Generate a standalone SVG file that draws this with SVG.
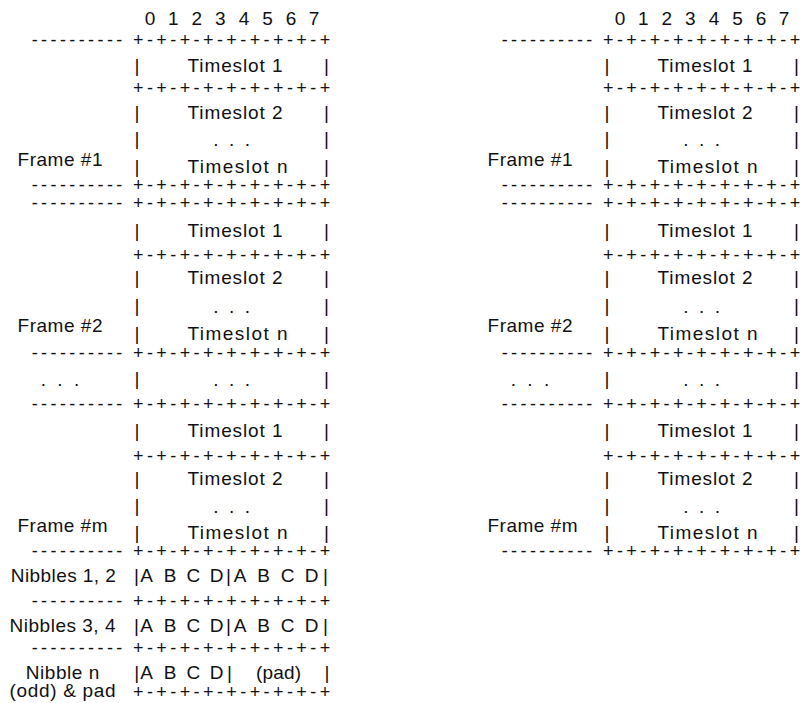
<svg xmlns="http://www.w3.org/2000/svg" width="801" height="703" viewBox="0 0 801 703">
<style>
.t{font-family:"Liberation Sans",Arial,Helvetica,sans-serif;font-size:19px;fill:#111111}
.g{font-size:18px}
.m{text-anchor:middle}
</style>
<rect width="801" height="703" fill="#ffffff"/>
<g id="left-panel">
  <g id="L-header">
    <text class="t m" x="150 161.7 173.3 185 196.7 208.5 220.3 232 244 255.7 267.5 279.3 291 302.5 314" y="25">0 1 2 3 4 5 6 7</text>
    <text class="t g m" x="34.7 44.1 53.5 62.9 72.3 81.7 91.1 100.5 109.9 119.3" y="46">----------</text>
    <text class="t g m" x="138.3 150 161.6 173.3 185 196.6 208.3 220 231.6 243.3 255 266.6 278.3 290 301.6 313.3 325" y="46">+-+-+-+-+-+-+-+-+</text>
  </g>
  <g id="L-frame1">
    <text class="t m" x="137" y="72">|</text><text class="t" x="187.5" y="72" textLength="95" lengthAdjust="spacing">Timeslot 1</text><text class="t m" x="326.5" y="72">|</text>
    <text class="t g m" x="138.3 150 161.6 173.3 185 196.6 208.3 220 231.6 243.3 255 266.6 278.3 290 301.6 313.3 325" y="94">+-+-+-+-+-+-+-+-+</text>
    <text class="t m" x="137" y="119">|</text><text class="t" x="187.5" y="119" textLength="95" lengthAdjust="spacing">Timeslot 2</text><text class="t m" x="326.5" y="119">|</text>
    <text class="t m" x="137" y="145">|</text><text class="t m" x="216 224 231.7 239.5 247.3" y="146">. . .</text><text class="t m" x="326.5" y="145">|</text>
    <text class="t" x="17.5" y="166" textLength="85" lengthAdjust="spacing">Frame #1</text>
    <text class="t m" x="137" y="173">|</text><text class="t" x="187.5" y="173" textLength="100" lengthAdjust="spacing">Timeslot n</text><text class="t m" x="326.5" y="173">|</text>
    <text class="t g m" x="34.7 44.1 53.5 62.9 72.3 81.7 91.1 100.5 109.9 119.3" y="191">----------</text>
    <text class="t g m" x="138.3 150 161.6 173.3 185 196.6 208.3 220 231.6 243.3 255 266.6 278.3 290 301.6 313.3 325" y="191">+-+-+-+-+-+-+-+-+</text>
  </g>
  <g id="L-frame2">
    <text class="t g m" x="34.7 44.1 53.5 62.9 72.3 81.7 91.1 100.5 109.9 119.3" y="209">----------</text>
    <text class="t g m" x="138.3 150 161.6 173.3 185 196.6 208.3 220 231.6 243.3 255 266.6 278.3 290 301.6 313.3 325" y="209">+-+-+-+-+-+-+-+-+</text>
    <text class="t m" x="137" y="237">|</text><text class="t" x="187.5" y="237" textLength="95" lengthAdjust="spacing">Timeslot 1</text><text class="t m" x="326.5" y="237">|</text>
    <text class="t g m" x="138.3 150 161.6 173.3 185 196.6 208.3 220 231.6 243.3 255 266.6 278.3 290 301.6 313.3 325" y="260.5">+-+-+-+-+-+-+-+-+</text>
    <text class="t m" x="137" y="284">|</text><text class="t" x="187.5" y="284" textLength="95" lengthAdjust="spacing">Timeslot 2</text><text class="t m" x="326.5" y="284">|</text>
    <text class="t m" x="137" y="312">|</text><text class="t m" x="216 224 231.7 239.5 247.3" y="313">. . .</text><text class="t m" x="326.5" y="312">|</text>
    <text class="t" x="17.5" y="332" textLength="85" lengthAdjust="spacing">Frame #2</text>
    <text class="t m" x="137" y="340">|</text><text class="t" x="187.5" y="340" textLength="100" lengthAdjust="spacing">Timeslot n</text><text class="t m" x="326.5" y="340">|</text>
    <text class="t g m" x="34.7 44.1 53.5 62.9 72.3 81.7 91.1 100.5 109.9 119.3" y="358.5">----------</text>
    <text class="t g m" x="138.3 150 161.6 173.3 185 196.6 208.3 220 231.6 243.3 255 266.6 278.3 290 301.6 313.3 325" y="358.5">+-+-+-+-+-+-+-+-+</text>
  </g>
  <g id="L-ellipsis">
    <text class="t m" x="43.3 51.6 60 68.3 76.7" y="386">. . .</text>
    <text class="t m" x="137" y="385">|</text><text class="t m" x="216 224 231.7 239.5 247.3" y="386">. . .</text><text class="t m" x="326.5" y="385">|</text>
  </g>
  <g id="L-framem">
    <text class="t g m" x="34.7 44.1 53.5 62.9 72.3 81.7 91.1 100.5 109.9 119.3" y="410">----------</text>
    <text class="t g m" x="138.3 150 161.6 173.3 185 196.6 208.3 220 231.6 243.3 255 266.6 278.3 290 301.6 313.3 325" y="410">+-+-+-+-+-+-+-+-+</text>
    <text class="t m" x="137" y="437">|</text><text class="t" x="187.5" y="437" textLength="95" lengthAdjust="spacing">Timeslot 1</text><text class="t m" x="326.5" y="437">|</text>
    <text class="t g m" x="138.3 150 161.6 173.3 185 196.6 208.3 220 231.6 243.3 255 266.6 278.3 290 301.6 313.3 325" y="461.5">+-+-+-+-+-+-+-+-+</text>
    <text class="t m" x="137" y="485">|</text><text class="t" x="187.5" y="485" textLength="95" lengthAdjust="spacing">Timeslot 2</text><text class="t m" x="326.5" y="485">|</text>
    <text class="t m" x="137" y="512">|</text><text class="t m" x="216 224 231.7 239.5 247.3" y="513">. . .</text><text class="t m" x="326.5" y="512">|</text>
    <text class="t" x="17.5" y="532" textLength="90" lengthAdjust="spacing">Frame #m</text>
    <text class="t m" x="137" y="539">|</text><text class="t" x="187.5" y="539" textLength="100" lengthAdjust="spacing">Timeslot n</text><text class="t m" x="326.5" y="539">|</text>
    <text class="t g m" x="34.7 44.1 53.5 62.9 72.3 81.7 91.1 100.5 109.9 119.3" y="556.5">----------</text>
    <text class="t g m" x="138.3 150 161.6 173.3 185 196.6 208.3 220 231.6 243.3 255 266.6 278.3 290 301.6 313.3 325" y="556.5">+-+-+-+-+-+-+-+-+</text>
  </g>
  <g id="L-nibbles">
    <text class="t" x="10.8" y="582" textLength="105" lengthAdjust="spacing">Nibbles 1, 2</text>
    <text class="t m" x="136.5 146.7 158 170 181.5 193.3 205 216.7 228.5 240 251.5 263.5 275.5 287.5 299.5 311.5 325.5" y="582">|A B C D|A B C D|</text>
    <text class="t g m" x="34.7 44.1 53.5 62.9 72.3 81.7 91.1 100.5 109.9 119.3" y="607">----------</text>
    <text class="t g m" x="138.3 150 161.6 173.3 185 196.6 208.3 220 231.6 243.3 255 266.6 278.3 290 301.6 313.3 325" y="607">+-+-+-+-+-+-+-+-+</text>
    <text class="t" x="9.5" y="632" textLength="106" lengthAdjust="spacing">Nibbles 3, 4</text>
    <text class="t m" x="136.5 146.7 158 170 181.5 193.3 205 216.7 228.5 240 251.5 263.5 275.5 287.5 299.5 311.5 325.5" y="632">|A B C D|A B C D|</text>
    <text class="t g m" x="34.7 44.1 53.5 62.9 72.3 81.7 91.1 100.5 109.9 119.3" y="654">----------</text>
    <text class="t g m" x="138.3 150 161.6 173.3 185 196.6 208.3 220 231.6 243.3 255 266.6 278.3 290 301.6 313.3 325" y="654">+-+-+-+-+-+-+-+-+</text>
    <text class="t" x="25.8" y="679" textLength="73.5" lengthAdjust="spacing">Nibble n</text>
    <text class="t m" x="136.7 146.7 158 170 181.5 193.3 205 216.7 229.5" y="679">|A B C D|</text>
    <text class="t" x="256" y="679" textLength="45" lengthAdjust="spacing">(pad)</text>
    <text class="t m" x="327" y="679">|</text>
    <text class="t" x="9.5" y="697" textLength="106" lengthAdjust="spacing">(odd) &amp; pad</text>
    <text class="t g m" x="138.3 150 161.6 173.3 185 196.6 208.3 220 231.6 243.3 255 266.6 278.3 290 301.6 313.3 325" y="698">+-+-+-+-+-+-+-+-+</text>
  </g>
</g>
<g id="right-panel">
  <g id="R-header">
    <text class="t m" x="620 631.7 643.3 655 666.7 678.5 690.3 702 714 725.7 737.5 749.3 761 772.5 784" y="25">0 1 2 3 4 5 6 7</text>
    <text class="t g m" x="504.7 514.1 523.5 532.9 542.3 551.7 561.1 570.5 579.9 589.3" y="46">----------</text>
    <text class="t g m" x="608.3 620 631.6 643.3 655 666.6 678.3 690 701.6 713.3 725 736.6 748.3 760 771.6 783.3 795" y="46">+-+-+-+-+-+-+-+-+</text>
  </g>
  <g id="R-frame1">
    <text class="t m" x="607" y="72">|</text><text class="t" x="657.5" y="72" textLength="95" lengthAdjust="spacing">Timeslot 1</text><text class="t m" x="796.5" y="72">|</text>
    <text class="t g m" x="608.3 620 631.6 643.3 655 666.6 678.3 690 701.6 713.3 725 736.6 748.3 760 771.6 783.3 795" y="94">+-+-+-+-+-+-+-+-+</text>
    <text class="t m" x="607" y="119">|</text><text class="t" x="657.5" y="119" textLength="95" lengthAdjust="spacing">Timeslot 2</text><text class="t m" x="796.5" y="119">|</text>
    <text class="t m" x="607" y="145">|</text><text class="t m" x="686 694 701.7 709.5 717.3" y="146">. . .</text><text class="t m" x="796.5" y="145">|</text>
    <text class="t" x="487.5" y="166" textLength="85" lengthAdjust="spacing">Frame #1</text>
    <text class="t m" x="607" y="173">|</text><text class="t" x="657.5" y="173" textLength="100" lengthAdjust="spacing">Timeslot n</text><text class="t m" x="796.5" y="173">|</text>
    <text class="t g m" x="504.7 514.1 523.5 532.9 542.3 551.7 561.1 570.5 579.9 589.3" y="191">----------</text>
    <text class="t g m" x="608.3 620 631.6 643.3 655 666.6 678.3 690 701.6 713.3 725 736.6 748.3 760 771.6 783.3 795" y="191">+-+-+-+-+-+-+-+-+</text>
  </g>
  <g id="R-frame2">
    <text class="t g m" x="504.7 514.1 523.5 532.9 542.3 551.7 561.1 570.5 579.9 589.3" y="209">----------</text>
    <text class="t g m" x="608.3 620 631.6 643.3 655 666.6 678.3 690 701.6 713.3 725 736.6 748.3 760 771.6 783.3 795" y="209">+-+-+-+-+-+-+-+-+</text>
    <text class="t m" x="607" y="237">|</text><text class="t" x="657.5" y="237" textLength="95" lengthAdjust="spacing">Timeslot 1</text><text class="t m" x="796.5" y="237">|</text>
    <text class="t g m" x="608.3 620 631.6 643.3 655 666.6 678.3 690 701.6 713.3 725 736.6 748.3 760 771.6 783.3 795" y="260.5">+-+-+-+-+-+-+-+-+</text>
    <text class="t m" x="607" y="284">|</text><text class="t" x="657.5" y="284" textLength="95" lengthAdjust="spacing">Timeslot 2</text><text class="t m" x="796.5" y="284">|</text>
    <text class="t m" x="607" y="312">|</text><text class="t m" x="686 694 701.7 709.5 717.3" y="313">. . .</text><text class="t m" x="796.5" y="312">|</text>
    <text class="t" x="487.5" y="332" textLength="85" lengthAdjust="spacing">Frame #2</text>
    <text class="t m" x="607" y="340">|</text><text class="t" x="657.5" y="340" textLength="100" lengthAdjust="spacing">Timeslot n</text><text class="t m" x="796.5" y="340">|</text>
    <text class="t g m" x="504.7 514.1 523.5 532.9 542.3 551.7 561.1 570.5 579.9 589.3" y="358.5">----------</text>
    <text class="t g m" x="608.3 620 631.6 643.3 655 666.6 678.3 690 701.6 713.3 725 736.6 748.3 760 771.6 783.3 795" y="358.5">+-+-+-+-+-+-+-+-+</text>
  </g>
  <g id="R-ellipsis">
    <text class="t m" x="513.3 521.6 530 538.3 546.7" y="386">. . .</text>
    <text class="t m" x="607" y="385">|</text><text class="t m" x="686 694 701.7 709.5 717.3" y="386">. . .</text><text class="t m" x="796.5" y="385">|</text>
  </g>
  <g id="R-framem">
    <text class="t g m" x="504.7 514.1 523.5 532.9 542.3 551.7 561.1 570.5 579.9 589.3" y="410">----------</text>
    <text class="t g m" x="608.3 620 631.6 643.3 655 666.6 678.3 690 701.6 713.3 725 736.6 748.3 760 771.6 783.3 795" y="410">+-+-+-+-+-+-+-+-+</text>
    <text class="t m" x="607" y="437">|</text><text class="t" x="657.5" y="437" textLength="95" lengthAdjust="spacing">Timeslot 1</text><text class="t m" x="796.5" y="437">|</text>
    <text class="t g m" x="608.3 620 631.6 643.3 655 666.6 678.3 690 701.6 713.3 725 736.6 748.3 760 771.6 783.3 795" y="461.5">+-+-+-+-+-+-+-+-+</text>
    <text class="t m" x="607" y="485">|</text><text class="t" x="657.5" y="485" textLength="95" lengthAdjust="spacing">Timeslot 2</text><text class="t m" x="796.5" y="485">|</text>
    <text class="t m" x="607" y="512">|</text><text class="t m" x="686 694 701.7 709.5 717.3" y="513">. . .</text><text class="t m" x="796.5" y="512">|</text>
    <text class="t" x="487.5" y="532" textLength="90" lengthAdjust="spacing">Frame #m</text>
    <text class="t m" x="607" y="539">|</text><text class="t" x="657.5" y="539" textLength="100" lengthAdjust="spacing">Timeslot n</text><text class="t m" x="796.5" y="539">|</text>
    <text class="t g m" x="504.7 514.1 523.5 532.9 542.3 551.7 561.1 570.5 579.9 589.3" y="556.5">----------</text>
    <text class="t g m" x="608.3 620 631.6 643.3 655 666.6 678.3 690 701.6 713.3 725 736.6 748.3 760 771.6 783.3 795" y="556.5">+-+-+-+-+-+-+-+-+</text>
  </g>
</g>
</svg>
